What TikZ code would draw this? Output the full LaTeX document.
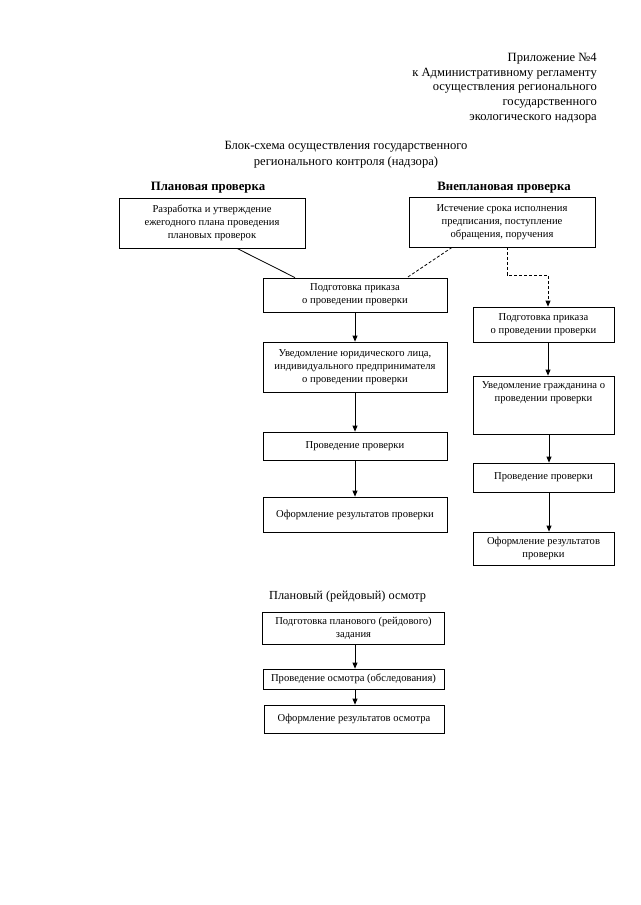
\documentclass[tikz,border=0pt]{standalone}
\usepackage{fontspec}
\setmainfont{Liberation Serif}
\usetikzlibrary{arrows.meta}
\begin{document}
\begin{tikzpicture}[x=1pt,y=-1pt,
  box/.style={draw, line width=0.8pt, inner sep=0pt, align=center, font=\fontsize{10.6}{13.2}\selectfont},
  txt/.style={inner sep=0pt, align=center, font=\fontsize{10.6}{13.2}\selectfont},
  hdr/.style={inner sep=0pt, anchor=base east, font=\fontsize{12.6}{14}\selectfont},
  ttl/.style={inner sep=0pt, anchor=base, font=\fontsize{12.6}{14}\selectfont},
  hd/.style={inner sep=0pt, anchor=base, font=\fontsize{12.8}{14}\selectfont\bfseries},
  arr/.style={-{Triangle[width=5pt,length=6pt]}, line width=0.8pt},
  dsh/.style={dash pattern=on 3pt off 2pt, line width=0.8pt},
  ln/.style={line width=0.8pt}
]
\useasboundingbox (0,0) rectangle (640,905);
\fill[white] (0,0) rectangle (640,905);

% header
\node[hdr] (h1) at (597,61) {Приложение №4};
\node[hdr] (h2) at (597,76) {к Административному регламенту};
\node[hdr] (h3) at (597,90.5) {осуществления регионального};
\node[hdr] (h4) at (597,105) {государственного};
\node[hdr] (h5) at (597,120) {экологического надзора};

% title
\node[ttl] (t1) at (346,149) {Блок-схема осуществления государственного};
\node[ttl] (t2) at (346,165) {регионального контроля (надзора)};

\node[hd] (p1) at (208,190) {Плановая проверка};
\node[hd] (p2) at (504,190) {Внеплановая проверка};

% top boxes
\node[box, minimum width=186, minimum height=50] (L0) at (212,223) {Разработка и утверждение\\ежегодного плана проведения\\плановых проверок};
\node[box, minimum width=186, minimum height=50] (R0) at (502,222) {Истечение срока исполнения\\предписания, поступление\\обращения, поручения};

% left column
\node[box, minimum width=184, minimum height=34] (M1) at (355,295) {Подготовка приказа\\о проведении проверки};
\node[box, minimum width=184, minimum height=50] (M2) at (355,367) {Уведомление юридического лица,\\индивидуального предпринимателя\\о проведении проверки};
\node[box, minimum width=184, minimum height=28] (M3) at (355,446) {Проведение проверки};
\node[box, minimum width=184, minimum height=35] (M4) at (355,514.5) {Оформление результатов проверки};

% right column
\node[box, minimum width=141, minimum height=35] (R1) at (543.5,324.5) {Подготовка приказа\\о проведении проверки};
\node[box, minimum width=141, minimum height=58] (R2) at (543.5,405) {};
\node[txt, anchor=north] (R2t) at (543.5,381) {Уведомление гражданина о\\проведении проверки};
\node[box, minimum width=141, minimum height=29] (R3) at (543.5,477.5) {Проведение проверки};
\node[box, minimum width=141, minimum height=33] (R4) at (543.5,548.5) {Оформление результатов\\проверки};

% bottom
\node[inner sep=0pt, anchor=base west, font=\fontsize{12.3}{14}\selectfont] (b0) at (269,599) {Плановый (рейдовый) осмотр};
\node[box, minimum width=182, minimum height=32] (B1) at (353.5,628) {Подготовка планового (рейдового)\\задания};
\node[box, minimum width=181, minimum height=20] (B2) at (353.5,679) {Проведение осмотра (обследования)};
\node[box, minimum width=180, minimum height=28] (B3) at (354,719) {Оформление результатов осмотра};

% connectors
\draw[ln] ([xshift=25pt]L0.south) -- ([xshift=-60pt]M1.north);
\draw[dsh] ([xshift=-50pt]R0.south) -- ([xshift=52pt]M1.north);
\coordinate (e1) at (507,275);
\coordinate (e2) at (548,275);
\draw[dsh,arr] ([xshift=5pt]R0.south) -- (e1) -- (e2) -- ([xshift=4.5pt]R1.north);

\draw[arr] (M1.south) -- (M2.north);
\draw[arr] (M2.south) -- (M3.north);
\draw[arr] (M3.south) -- (M4.north);

\draw[arr] ([xshift=4.5pt]R1.south) -- ([xshift=4.5pt]R2.north);
\draw[arr] ([xshift=5.5pt]R2.south) -- ([xshift=5.5pt]R3.north);
\draw[arr] ([xshift=5.5pt]R3.south) -- ([xshift=5.5pt]R4.north);

\draw[arr] ([xshift=1.5pt]B1.south) -- ([xshift=1.5pt]B1.south |- B2.north);
\draw[arr] ([xshift=1.5pt]B2.south) -- ([xshift=1.5pt]B2.south |- B3.north);
\end{tikzpicture}
\end{document}
